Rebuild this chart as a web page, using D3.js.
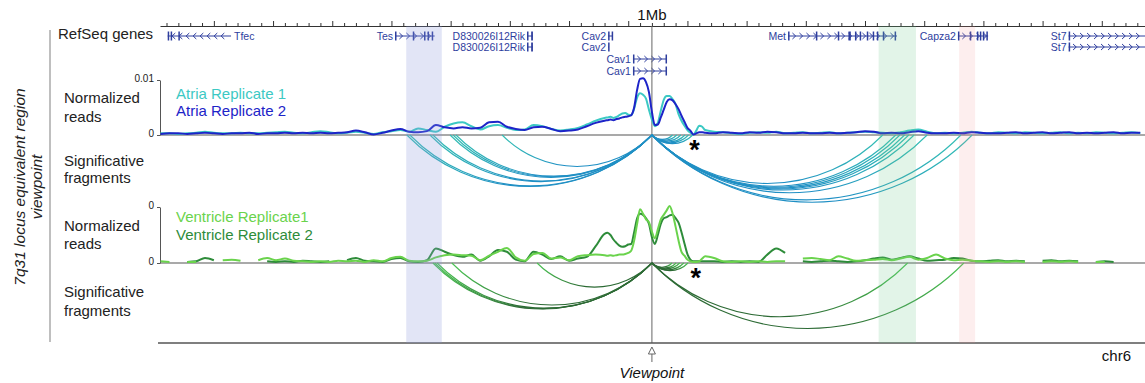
<!DOCTYPE html>
<html>
<head>
<meta charset="utf-8">
<script src="https://cdn.jsdelivr.net/npm/d3@7"></script>
<style>
  body { margin: 0; background: #fff; }
  svg { display: block; font-family: "Liberation Sans", Arial, Helvetica, sans-serif; }
</style>
</head>
<body>
<svg id="chart" width="1145" height="383"></svg>
<script>
// genomic bins (kb), coarse far away, finer around the viewpoint
const binsKb = [
  210,225,240,255,270,285,300,315,330,345,360,375,390,405,420,435,450,465,480,495,
  510,525,540,555,570,585,600,615,630,645,660,675,690,705,720,735,750,765,780,795,
  810,825,840,855,870,885,900,915,930,945,960,
  965,970,975,980,985,990,995,1000,1005,1010,1015,1020,1025,1030,1035,1040,1045,1050,
  1055,1060,1065,1070,1075,1080,1085,1090,1095,1100,1105,1110,1115,1120,1125,1130,
  1145,1160,1175,1190,1205,1220,1235,1250,1265,1280,1295,1310,1325,1340,1355,1370,
  1385,1400,1415,1430,1445,1460,1475,1490,1505,1520,1535,1550,1565,1580,1595,1610,
  1625,1640,1655,1670,1685,1700,1715,1730,1745,1760,1775,1790,1805,1820,1835,1850,1865
];

// normalized reads (x 1e-3)
const atriaRep1 = [
  0.3,0.3,0.2,0.3,0.4,0.6,0.4,0.3,0.3,0.4,0.3,0.3,0.4,0.5,0.6,0.4,0.3,0.5,0.7,0.5,
  0.3,0.4,0.6,0.4,0.2,0.5,0.7,0.9,0.6,1.2,0.9,0.6,1.5,2.1,2.3,1.6,1.0,1.6,1.8,1.3,
  0.9,1.0,1.8,1.6,1.1,0.8,1.0,1.3,1.9,2.6,3.1,
  3.2,3.3,3.1,3.3,3.6,3.9,4.0,3.7,3.6,4.8,6.8,7.6,7.3,6.6,4.6,2.8,1.6,2.2,4.4,6.4,
  7.1,7.1,6.5,5.6,3.8,2.6,1.7,0.9,0.4,0.1,0.8,1.7,1.5,0.9,
  0.6,0.5,0.3,0.2,0.4,0.5,0.4,0.6,0.3,0.4,0.5,0.3,0.4,0.5,0.3,0.4,0.5,0.6,0.5,0.4,
  0.3,0.5,0.8,1.0,0.6,0.3,0.4,0.3,0.4,0.6,0.4,0.3,0.5,0.4,0.3,0.5,0.4,0.3,0.4,0.5,
  0.3,0.4,0.3,0.5,0.4,0.3,0.4,0.5,0.3
];
const atriaRep2 = [
  0.2,0.3,0.3,0.2,0.3,0.4,0.3,0.2,0.3,0.3,0.4,0.2,0.3,0.3,0.4,0.3,0.4,0.3,0.4,0.3,
  0.4,0.5,0.8,0.5,0.1,0.4,0.8,1.1,0.6,0.5,0.7,1.8,1.4,1.2,1.4,1.2,1.3,2.3,2.4,1.5,
  1.1,0.9,1.4,1.5,1.1,0.7,0.8,1.0,1.6,2.2,2.6,
  2.7,2.8,2.7,2.9,3.0,3.2,3.3,3.4,3.6,5.0,8.2,10.2,10.3,9.6,7.8,4.2,1.8,1.9,3.2,4.6,
  6.0,6.5,6.3,5.6,4.7,3.5,2.4,1.3,0.8,0.1,0.3,0.5,0.5,0.4,
  0.3,0.5,0.4,0.3,0.5,0.4,0.6,0.5,0.3,0.3,0.4,0.3,0.3,0.4,0.3,0.4,0.5,0.7,0.6,0.3,
  0.4,0.3,0.5,0.7,0.4,0.3,0.3,0.4,0.3,0.5,0.4,0.3,0.3,0.4,0.5,0.3,0.4,0.5,0.3,0.4,
  0.5,0.3,0.4,0.3,0.4,0.5,0.3,0.4,0.4
];
const ventricleRep1 = [
  0.3,0.2,null,0.2,0.2,null,null,0.5,0.6,0.4,null,0.5,0.9,0.5,0.8,0.4,0.3,0.2,0.3,0.2,
  0.4,0.3,0.4,0.2,0.5,0.3,0.9,1.1,0.4,0.3,0.4,1.0,1.4,1.5,1.4,1.3,0.5,1.3,2.0,2.7,
  1.0,0.4,1.6,1.8,0.8,1.0,0.5,1.2,1.4,1.5,1.4,
  1.3,1.4,1.3,1.4,1.5,1.5,1.6,1.8,2.2,4.0,7.0,9.6,8.8,7.8,7.3,5.6,4.4,6.0,7.8,8.6,
  9.4,10.2,8.8,6.5,4.0,2.0,1.3,0.6,0.3,0.2,0.2,0.3,0.8,1.2,
  0.9,0.3,0.2,0.3,0.2,0.3,0.2,0.3,0.3,null,0.8,0.9,0.7,0.5,1.2,0.8,0.4,0.5,0.6,0.7,
  0.5,0.8,1.1,0.6,0.9,1.5,0.8,0.5,0.6,0.4,0.3,0.2,0.3,0.2,0.3,0.2,null,0.2,0.3,0.2,
  0.3,0.2,null,0.2,0.2,null,null,null,null
];
const ventricleRep2 = [
  null,null,null,0.2,0.3,0.9,0.5,null,null,null,null,null,0.3,0.2,0.3,0.2,0.4,0.3,0.2,0.3,
  null,0.5,0.9,0.4,0.3,0.2,0.7,0.9,0.3,0.2,0.5,2.6,2.0,1.4,1.1,1.5,0.4,1.2,2.3,2.0,
  0.6,0.3,2.0,1.5,0.7,1.2,0.4,0.8,1.1,3.0,5.2,
  5.4,5.0,4.2,3.6,3.1,2.9,3.0,3.3,3.4,5.5,8.0,8.8,8.6,8.0,7.0,4.6,3.4,5.0,7.0,8.0,
  8.2,8.5,8.6,8.0,7.2,5.5,3.5,1.6,0.6,0.3,0.3,0.3,0.3,0.3,
  0.3,0.2,0.3,0.2,0.3,0.2,1.5,2.6,1.8,null,0.3,0.2,0.3,0.4,0.3,0.2,0.3,0.5,0.8,1.0,
  0.6,0.9,1.2,0.8,0.4,0.5,0.6,0.9,0.8,0.4,0.3,0.4,0.5,0.3,0.4,0.3,null,0.4,0.5,0.3,
  0.4,0.3,null,0.2,0.3,0.2,null,null,null
];

const atriaTickLabels = ["0", "0.01"];
const ventricleTickLabels = ["0", "0"];

// significant fragments: far end of each interaction (kb), other end = viewpoint
const viewpointKb = 1040;
const atriaArcEndsKb = [626, 631, 665, 670, 699, 704, 709, 787,
  1075, 1082, 1089, 1096, 1102, 1109,
  1430, 1452, 1459, 1467, 1474, 1483, 1505, 1562, 1581];
const ventricleArcEndsKb = [670, 673, 677, 702, 846,
  1074, 1081, 1087, 1094, 1101,
  1472, 1567];
const asteriskKb = [1112, 1114];

// highlighted regions
const bandStartKb = [625, 1423, 1559];
const bandEndKb = [685, 1486, 1586];
const bandFill = ["rgba(140,150,220,0.25)", "rgba(110,200,140,0.2)", "rgba(242,142,142,0.15)"];

// RefSeq genes
const geneNames = ["Tfec", "Tes", "D830026I12Rik", "D830026I12Rik", "Cav2", "Cav2", "Cav1", "Cav1", "Met", "Capza2", "St7", "St7"];
const geneRows = [0, 0, 0, 1, 0, 1, 2, 3, 0, 0, 0, 1];
const geneStartKb = [222, 606, 829, 829, 966, 966, 1008, 1008, 1270, 1557, 1744, 1744];
const geneEndKb = [329, 673, 839, 839, 974, 967.5, 1065, 1065, 1454, 1608, 1880, 1880];
const geneStrand = [-1, 1, 1, 1, 1, 1, 1, 1, 1, 1, 1, 1];
const geneExonsKb = [
  [[222, 224], [227, 229], [240, 241.5]],
  [[606, 607.5], [636, 637.5], [655, 657], [661, 663], [668, 670.5]],
  [[829, 830.5], [836, 839]],
  [[829, 830.5], [836, 839]],
  [[966, 967.5], [972, 974]],
  [[966, 967.5]],
  [[1008, 1010], [1063, 1065]],
  [[1008, 1010], [1063, 1065]],
  [[1270, 1271.5], [1317, 1318.5], [1354, 1355.5], [1372, 1376], [1383, 1385], [1391, 1392.5], [1403, 1404.5], [1413, 1414.5], [1420, 1421.5], [1430, 1431.5], [1450, 1452]],
  [[1557, 1558.5], [1577, 1578.5], [1589, 1590.5], [1594, 1595.5], [1599, 1601], [1605, 1607]],
  [[1744, 1746.5]],
  [[1744, 1746.5]]
];

const svg = d3.select("#chart");
const x = d3.scaleLinear().domain([209, 1873]).range([160, 1145]);
const vpX = x(viewpointKb);
const yAtria = d3.scaleLinear().domain([0, 10]).range([135, 80]);
const yVent = d3.scaleLinear().domain([0, 10]).range([263, 207]);
const geneColor = "#2e3e9e";

// left frame and rotated title
svg.append("line").attr("x1", 50).attr("x2", 50).attr("y1", 30).attr("y2", 342)
  .attr("stroke", "#aaa").attr("stroke-width", 1.5);
const title = svg.append("text").attr("transform", "translate(25,187) rotate(-90)")
  .attr("text-anchor", "middle").style("font-style", "italic").style("font-size", "15.5px").attr("fill", "#222");
title.append("tspan").attr("x", 0).attr("dy", 0).text("7q31 locus equivalent region");
title.append("tspan").attr("x", 0).attr("dy", 16.5).text("viewpoint");

// row labels
const rowLabels = [
  ["RefSeq genes", 58, 39],
  ["Normalized", 64, 103], ["reads", 64, 122],
  ["Significative", 64, 166], ["fragments", 64, 183],
  ["Normalized", 64, 231], ["reads", 64, 249],
  ["Significative", 64, 297], ["fragments", 64, 316]
];
svg.selectAll("text.rowlab").data(rowLabels).enter().append("text")
  .attr("class", "rowlab").attr("x", d => d[1]).attr("y", d => d[2])
  .style("font-size", "15px").attr("fill", "#222").text(d => d[0]);

// ruler
const ticks = d3.range(220, 1873, 20);
const ruler = svg.append("g").attr("transform", "translate(0,26)")
  .call(d3.axisTop(x).tickValues(ticks).tickFormat("").tickSizeOuter(0));
ruler.select(".domain").attr("stroke", "#333");
ruler.selectAll(".tick line").attr("stroke", "#333")
  .attr("y2", d => d % 100 === 0 ? -5 : -3);
svg.append("text").attr("x", vpX).attr("y", 20).attr("text-anchor", "middle")
  .style("font-size", "15px").attr("fill", "#111").text("1Mb");

// genes
const rowY = [36, 47, 59, 71];
const genes = svg.append("g");
geneNames.forEach((name, i) => {
  const y = rowY[geneRows[i]];
  const x0 = x(geneStartKb[i]), x1 = Math.min(x(geneEndKb[i]), 1146);
  const s = geneStrand[i];
  genes.append("line").attr("x1", x0).attr("x2", x1).attr("y1", y).attr("y2", y)
    .attr("stroke", geneColor).attr("stroke-width", 1);
  for (let cx = x0 + 6; cx < x1 - 3; cx += 7) {
    genes.append("path").attr("d", `M${cx - 1.6 * s},${y - 3}L${cx + 1.6 * s},${y}L${cx - 1.6 * s},${y + 3}`)
      .attr("fill", "none").attr("stroke", geneColor).attr("stroke-width", 1);
  }
  geneExonsKb[i].forEach(e => {
    genes.append("rect").attr("x", x(e[0])).attr("y", y - 4.5)
      .attr("width", Math.max(1.5, x(e[1]) - x(e[0]))).attr("height", 9).attr("fill", geneColor);
  });
  genes.append("text")
    .attr("x", s < 0 ? x1 + 3 : x0 - 2).attr("y", y + 4)
    .attr("text-anchor", s < 0 ? "start" : "end")
    .style("font-size", "10.5px").attr("fill", geneColor).text(name);
});

// viewpoint and baselines
svg.append("line").attr("x1", vpX).attr("x2", vpX).attr("y1", 26).attr("y2", 343)
  .attr("stroke", "#666").attr("stroke-width", 1);
[yAtria(0), yVent(0)].forEach(y0 => {
  svg.append("line").attr("x1", 160).attr("x2", 1145).attr("y1", y0).attr("y2", y0)
    .attr("stroke", "#8c8c8c").attr("stroke-width", 1.5);
});
svg.append("line").attr("x1", 158).attr("x2", 1145).attr("y1", 343).attr("y2", 343)
  .attr("stroke", "#555").attr("stroke-width", 1.5);

// y axes
function yAxis(scale, labels) {
  const g = svg.append("g").attr("transform", "translate(160,0)")
    .call(d3.axisLeft(scale).tickValues([0, 10]).tickFormat((d, i) => labels[i]).tickSize(3).tickSizeOuter(0));
  g.select(".domain").attr("stroke", "#555");
  g.selectAll(".tick line").attr("stroke", "#555");
  g.selectAll(".tick text").style("font-size", "10px").attr("fill", "#222")
    .attr("font-family", "Liberation Sans, Arial, sans-serif").attr("dy", "0.1em");
}
yAxis(yAtria, atriaTickLabels);
yAxis(yVent, ventricleTickLabels);

// arcs: circular segments hanging below the baseline, sagitta ~0.21 of the chord
const defs = svg.append("defs");
function drawArcs(ends, y0, nearColor, farColor, id) {
  ends.forEach((kb, i) => {
    const xe = x(kb);
    const gid = id + i;
    const grad = defs.append("linearGradient").attr("id", gid).attr("gradientUnits", "userSpaceOnUse")
      .attr("x1", vpX).attr("x2", xe).attr("y1", 0).attr("y2", 0);
    grad.append("stop").attr("offset", "0%").attr("stop-color", nearColor);
    grad.append("stop").attr("offset", "60%").attr("stop-color", nearColor);
    grad.append("stop").attr("offset", "100%").attr("stop-color", farColor);
    const a = Math.min(vpX, xe), b = Math.max(vpX, xe);
    const c = b - a, sag = c * 0.21;
    const r = (c * c / 4 + sag * sag) / (2 * sag);
    svg.append("path").attr("d", `M${a},${y0}A${r},${r} 0 0 0 ${b},${y0}`)
      .attr("fill", "none").attr("stroke", `url(#${gid})`).attr("stroke-width", 1.1);
  });
}
drawArcs(atriaArcEndsKb, yAtria(0), "#1f8fc4", "#34bfb4", "ga");
drawArcs(ventricleArcEndsKb, yVent(0), "#2c6a34", "#4cc454", "gv");

// reads
function readsLine(values, scale, color) {
  const pts = binsKb.map((kb, i) => [kb, values[i]]);
  const line = d3.line().defined(d => d[1] != null)
    .x(d => x(d[0])).y(d => scale(d[1])).curve(d3.curveMonotoneX);
  svg.append("path").datum(pts).attr("d", line).attr("fill", "none")
    .attr("stroke", color).attr("stroke-width", 2).attr("stroke-linejoin", "round");
}
readsLine(atriaRep1, yAtria, "#3cc9c4");
readsLine(atriaRep2, yAtria, "#1d24c8");
readsLine(ventricleRep2, yVent, "#2e8c3a");
readsLine(ventricleRep1, yVent, "#6ad34c");

// legends
const legends = [
  ["Atria Replicate 1", 99, "#3cc9c4"], ["Atria Replicate 2", 116, "#1d24c8"],
  ["Ventricle Replicate1", 222, "#6ad34c"], ["Ventricle Replicate 2", 240, "#2e8c3a"]
];
svg.selectAll("text.leg").data(legends).enter().append("text").attr("class", "leg")
  .attr("x", 176).attr("y", d => d[1]).style("font-size", "15px").attr("fill", d => d[2]).text(d => d[0]);

// highlighted regions
bandStartKb.forEach((s, i) => {
  svg.append("rect").attr("x", x(s)).attr("y", 26).attr("width", x(bandEndKb[i]) - x(s))
    .attr("height", 317).attr("fill", bandFill[i]);
});

// asterisks
[yAtria(0), yVent(0)].forEach((y0, i) => {
  svg.append("text").attr("x", x(asteriskKb[i])).attr("y", y0 + 24).attr("text-anchor", "middle")
    .style("font-size", "27px").style("font-weight", "bold").attr("fill", "#000").text("*");
});

// viewpoint arrow and chr label
svg.append("path").attr("d", `M${vpX},347L${vpX - 3.5},354L${vpX + 3.5},354Z`)
  .attr("fill", "#fff").attr("stroke", "#666").attr("stroke-width", 1);
svg.append("line").attr("x1", vpX).attr("x2", vpX).attr("y1", 354).attr("y2", 362)
  .attr("stroke", "#666").attr("stroke-width", 1);
svg.append("text").attr("x", vpX).attr("y", 378).attr("text-anchor", "middle")
  .style("font-size", "15px").style("font-style", "italic").attr("fill", "#111").text("Viewpoint");
svg.append("text").attr("x", 1131).attr("y", 361).attr("text-anchor", "end")
  .style("font-size", "15px").attr("fill", "#111").text("chr6");
</script>
</body>
</html>
